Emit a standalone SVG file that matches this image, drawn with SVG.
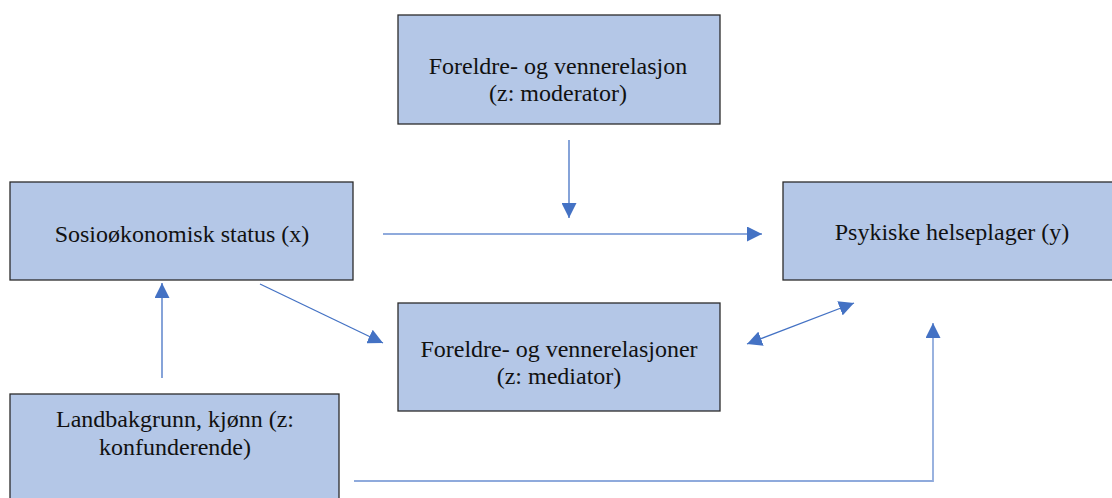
<svg xmlns="http://www.w3.org/2000/svg" width="1112" height="498" viewBox="0 0 1112 498">
<style>
.box{fill:#B4C7E7;stroke:#2b2b2b;stroke-width:1.3}
.t{font-family:"Liberation Serif","Times New Roman",serif;font-size:24px;fill:#111;text-anchor:middle}
.c{fill:none;stroke:#4472C4;stroke-width:1.3}
.cl{fill:none;stroke:#8FAADC;stroke-width:1.8}
</style>
<defs>
<marker id="ah" viewBox="0 0 10 10" refX="10" refY="5" markerWidth="15" markerHeight="15" markerUnits="userSpaceOnUse" orient="auto-start-reverse">
<path d="M0,0 L10,5 L0,10 z" fill="#4472C4"/>
</marker>
</defs>
<rect width="1112" height="498" fill="#fff"/>
<g id="moderator">
<rect class="box" x="398" y="15" width="322" height="109"/>
<text class="t" x="558" y="74">Foreldre- og vennerelasjon</text>
<text class="t" x="558" y="101">(z: moderator)</text>
</g>
<g id="ses">
<rect class="box" x="10" y="182" width="343" height="98"/>
<text class="t" x="182" y="242">Sosioøkonomisk status (x)</text>
</g>
<g id="helse">
<rect class="box" x="783" y="182" width="340" height="98"/>
<text class="t" x="952" y="240">Psykiske helseplager (y)</text>
</g>
<g id="mediator">
<rect class="box" x="398" y="303" width="322" height="108"/>
<text class="t" x="559" y="357">Foreldre- og vennerelasjoner</text>
<text class="t" x="559" y="384">(z: mediator)</text>
</g>
<g id="konfunder">
<rect class="box" x="10" y="394" width="329" height="120"/>
<text class="t" x="175" y="427">Landbakgrunn, kjønn (z:</text>
<text class="t" x="175" y="455">konfunderende)</text>
</g>
<g id="connectors">
<line class="c" x1="569" y1="140" x2="569" y2="218" marker-end="url(#ah)"/>
<line class="cl" x1="383" y1="234" x2="762" y2="234" marker-end="url(#ah)"/>
<line class="c" x1="260" y1="284" x2="383" y2="343" marker-end="url(#ah)"/>
<line class="c" x1="162" y1="378" x2="162" y2="283" marker-end="url(#ah)"/>
<line class="c" x1="747" y1="344" x2="854" y2="303" marker-start="url(#ah)" marker-end="url(#ah)"/>
<polyline class="cl" points="354,481 933,481 933,323" marker-end="url(#ah)"/>
</g>
</svg>
